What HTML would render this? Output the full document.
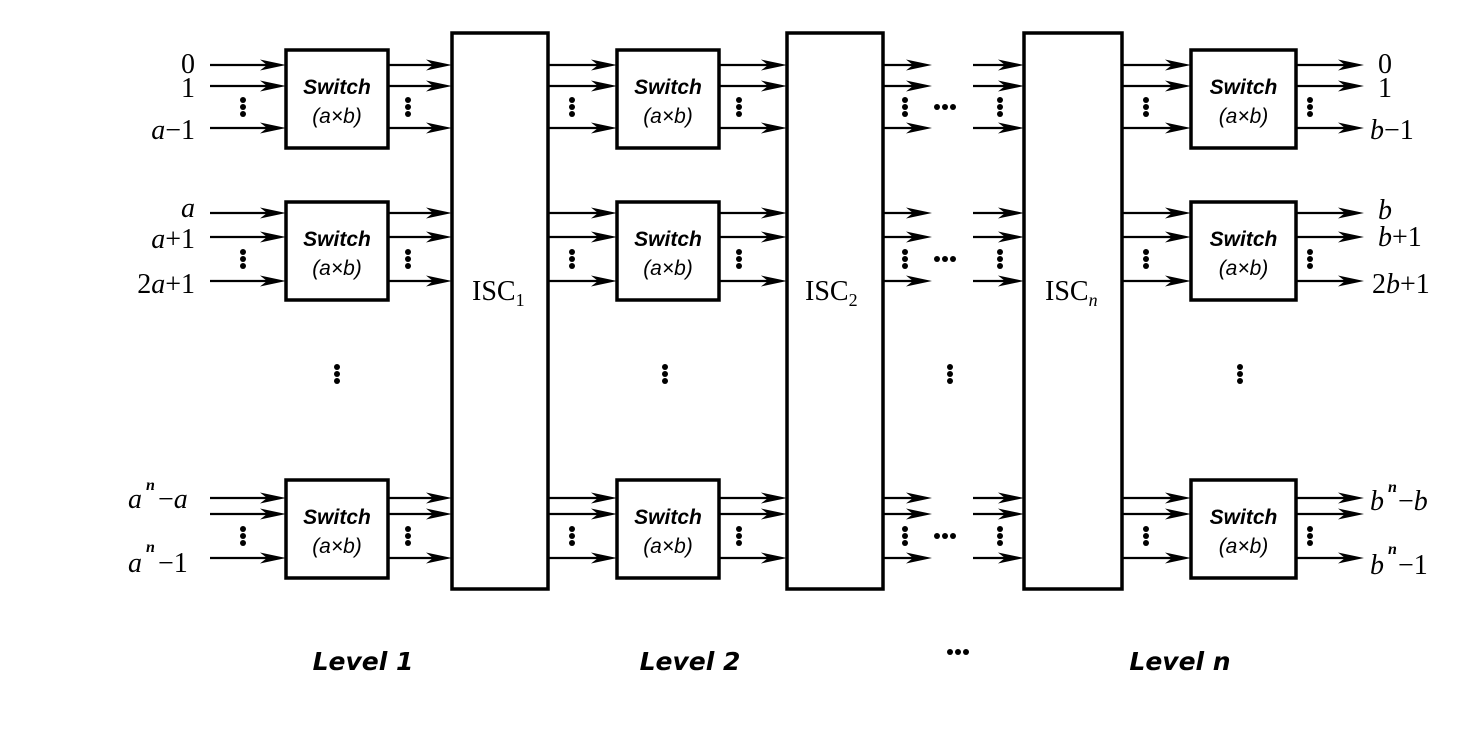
<!DOCTYPE html>
<html><head><meta charset="utf-8"><style>
html,body{margin:0;padding:0;background:#fff;width:1482px;height:730px;overflow:hidden}
svg{position:absolute;left:0;top:0}
.sw{font-family:"Liberation Sans",sans-serif;font-weight:bold;font-style:italic;font-size:21px}
.ab{font-family:"Liberation Sans",sans-serif;font-style:italic;font-size:21px}
.lb{font-family:"Liberation Serif",serif;font-size:28px}
.lv{font-family:"DejaVu Sans","Liberation Sans",sans-serif;font-weight:bold;font-style:italic;font-size:25px}
</style></head><body>
<svg id="s" width="1482" height="730" xmlns="http://www.w3.org/2000/svg">
<g id="g" stroke="#000" fill="none" stroke-width="2.5"></g>
<g fill="#000">
<text class="lb" x="195" y="73" text-anchor="end">0</text>
<text class="lb" x="195" y="97" text-anchor="end">1</text>
<text class="lb" x="195" y="139" text-anchor="end"><tspan font-style="italic">a</tspan>−1</text>
<text class="lb" x="195" y="217" text-anchor="end" font-style="italic">a</text>
<text class="lb" x="195" y="248" text-anchor="end"><tspan font-style="italic">a</tspan>+1</text>
<text class="lb" x="195" y="293" text-anchor="end">2<tspan font-style="italic">a</tspan>+1</text>
<text class="lb" x="128" y="508" font-style="italic">a</text><text x="146" y="490" font-family="Liberation Serif" font-style="italic" font-weight="bold" font-size="16">n</text>
<text class="lb" x="158" y="508">−<tspan font-style="italic">a</tspan></text>
<text class="lb" x="128" y="572" font-style="italic">a</text><text x="146" y="552" font-family="Liberation Serif" font-style="italic" font-weight="bold" font-size="16">n</text>
<text class="lb" x="158" y="572">−1</text>
<text class="lb" x="1378" y="73">0</text>
<text class="lb" x="1378" y="97">1</text>
<text class="lb" x="1370" y="139"><tspan font-style="italic">b</tspan>−1</text>
<text class="lb" x="1378" y="219" font-style="italic">b</text>
<text class="lb" x="1378" y="246"><tspan font-style="italic">b</tspan>+1</text>
<text class="lb" x="1372" y="293">2<tspan font-style="italic">b</tspan>+1</text>
<text class="lb" x="1370" y="510" font-style="italic">b</text><text x="1388" y="492" font-family="Liberation Serif" font-style="italic" font-weight="bold" font-size="16">n</text>
<text class="lb" x="1398" y="510">−<tspan font-style="italic">b</tspan></text>
<text class="lb" x="1370" y="574" font-style="italic">b</text><text x="1388" y="554" font-family="Liberation Serif" font-style="italic" font-weight="bold" font-size="16">n</text>
<text class="lb" x="1398" y="574">−1</text>
<text class="lb" x="472" y="300">ISC<tspan font-size="18" dy="6">1</tspan></text>
<text class="lb" x="805" y="300">ISC<tspan font-size="18" dy="6">2</tspan></text>
<text class="lb" x="1045" y="300">ISC<tspan font-size="18" dy="6" font-style="italic">n</tspan></text>
<text class="lv" x="363" y="670" text-anchor="middle">Level 1</text>
<text class="lv" x="690" y="670" text-anchor="middle">Level 2</text>
<text class="lv" x="1180" y="670" text-anchor="middle">Level n</text>
</g>
<g id="t" fill="#000"></g>
</svg>
<script>
var g=document.getElementById('g'),t=document.getElementById('t'),NS="http://www.w3.org/2000/svg";
function el(p,tag,a){var e=document.createElementNS(NS,tag);for(var k in a)e.setAttribute(k,a[k]);p.appendChild(e);return e;}
function arr(x1,x2,y){el(g,'line',{x1:x1,y1:y,x2:x2-16,y2:y,'stroke-width':2.2});el(t,'path',{d:'M'+(x2-26)+' '+(y-5.5)+' L'+x2+' '+y+' L'+(x2-26)+' '+(y+5.5)+' L'+(x2-19)+' '+y+'Z'});}
function vd(x,y){for(var i=0;i<3;i++)el(t,'circle',{cx:x,cy:y+i*7,r:3});}
function hd(x,y){for(var i=0;i<3;i++)el(t,'circle',{cx:x+i*8,cy:y,r:3});}
var groups=[{l:[65,86,128],b:[50,148]},{l:[213,237,281],b:[202,300]},{l:[498,514,558],b:[480,578]}];
var sws=[[286,388],[617,719],[1191,1296]];
groups.forEach(function(G){
 var l=G.l,mid=(l[1]+l[2])/2-7;
 l.forEach(function(y){
  arr(210,286,y);arr(388,452,y);arr(548,617,y);arr(719,787,y);arr(883,932,y);arr(973,1024,y);arr(1122,1191,y);arr(1296,1364,y);
 });
 [243,408,572,739,905,1000,1146,1310].forEach(function(x){vd(x,mid);});
 hd(937,mid+7);
 sws.forEach(function(s){el(g,'rect',{x:s[0],y:G.b[0],width:s[1]-s[0],height:G.b[1]-G.b[0],'stroke-width':3.5});
  var cx=(s[0]+s[1])/2,cy=(G.b[0]+G.b[1])/2;
  var a=el(t,'text',{x:cx,y:cy-5,'text-anchor':'middle','class':'sw'});a.textContent='Switch';
  var b=el(t,'text',{x:cx,y:cy+24,'text-anchor':'middle','class':'ab'});b.textContent='(a×b)';
 });
});
[[452,548],[787,883],[1024,1122]].forEach(function(s){el(g,'rect',{x:s[0],y:33,width:s[1]-s[0],height:556,'stroke-width':3.5});});
[337,665,950,1240].forEach(function(x){vd(x,367);});
hd(950,652);
</script>
</body></html>
